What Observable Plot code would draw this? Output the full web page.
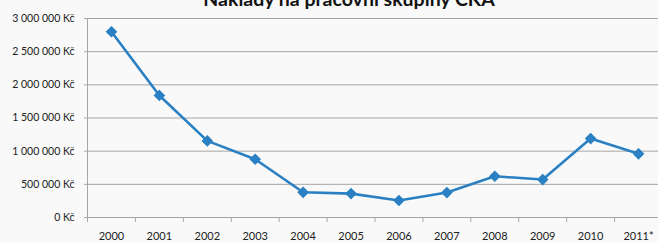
<!DOCTYPE html>
<html><head><meta charset="utf-8">
<script src="https://cdn.jsdelivr.net/npm/d3@7"></script>
<script src="https://cdn.jsdelivr.net/npm/@observablehq/plot@0.6"></script>
<style>
html,body{margin:0;padding:0;background:#f8f9f8;overflow:hidden;}
#chart svg{display:block;}
</style></head>
<body><div id="chart"></div>
<script>
const title = "Náklady na pracovní skupiny CKA";
const years = ["2000","2001","2002","2003","2004","2005","2006","2007","2008","2009","2010","2011*"];
const costs = [2800000,1840000,1155000,878000,380000,360000,256000,376000,622000,572000,1190000,960000];
const yTicks = [0,500000,1000000,1500000,2000000,2500000,3000000];

const data = years.map((y,i)=>({year:y, cost:costs[i]}));
const fmt = d => d3.format(",")(d).replace(/,/g,"\u00a0") + " Kč";
const step = (662-87)/years.length;

const plot = Plot.plot({
  width: 658, height: 242,
  marginTop: 18, marginBottom: 25, marginLeft: 87, marginRight: -4,
  style: {background: "transparent", fontFamily: "Lato, sans-serif", color: "#222"},
  x: {type: "band", domain: years, padding: 0, round: false, range: [87, 662]},
  y: {domain: [0, 3000000], range: [217, 18]},
  marks: [
    Plot.gridY(yTicks, {stroke: "#a6a6a6", strokeOpacity: 1, strokeWidth: 1}),
    Plot.axisY(yTicks, {tickFormat: fmt, tickSize: 3, tickPadding: 10, stroke: "#a6a6a6", fontSize: 10.5, fill: "#222", label: null}),
    Plot.ruleX(years.slice(0,1), {x: d => d, dx: -step/2, y1: 0, y2: 3000000, stroke: "#a6a6a6"}),
    Plot.ruleX(years, {x: d => d, dx: -step/2, y1: 0, y2: -75000, stroke: "#a6a6a6"}),
    Plot.axisX({tickSize: 0, tickPadding: 15, fontSize: 11, fill: "#222", label: null}),
    Plot.line(data, {x: "year", y: "cost", stroke: "#2a80c2", strokeWidth: 2.6}),
    Plot.dot(data, {x: "year", y: "cost", symbol: "diamond2", r: 4.3, fill: "#2a80c2", stroke: "#2a80c2"}),
    Plot.text([title], {frameAnchor: "top", dx: -26, dy: -12.5, lineAnchor: "bottom", fontSize: 19.5, fontWeight: "bold", fill: "#111", text: d => d})
  ]
});
document.getElementById("chart").append(plot);
</script></body></html>
